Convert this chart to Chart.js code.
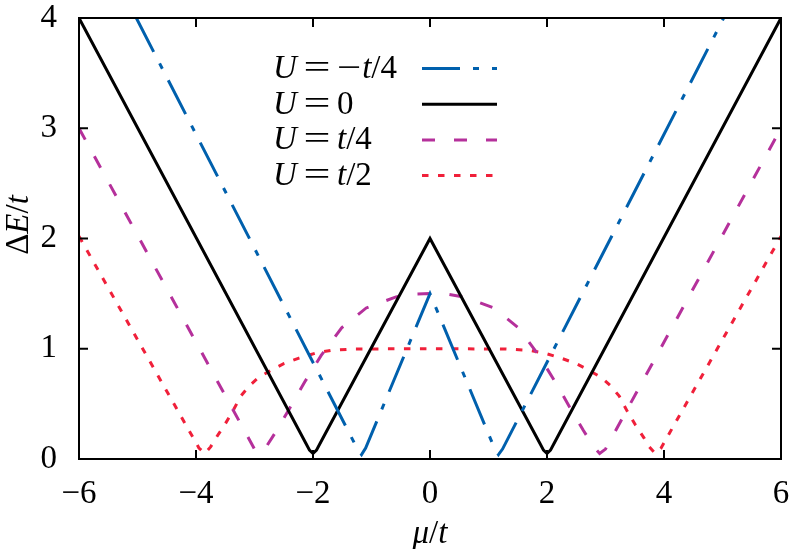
<!DOCTYPE html>
<html><head><meta charset="utf-8">
<script src="https://cdn.jsdelivr.net/npm/chart.js@4/dist/chart.umd.min.js"></script>
<style>html,body{margin:0;padding:0;background:#fff;}#wrap{width:789px;height:549px;}</style>
</head><body><div id="wrap"><canvas id="c" width="789" height="549"></canvas></div>
<script>
// ---- data ----
const seriesLabels = ["U=−t/4", "U=0", "U=t/4", "U=t/2"];
const xTickValues = [-6, -4, -2, 0, 2, 4, 6];
const yTickValues = [0, 1, 2, 3, 4];
const xTitle = "μ/t";
const yTitle = "ΔE/t";

const blueMu = [-5.02, -1.24, -1.17, -1.1, 0, 1.1, 1.17, 1.24, 5.02];
const blueDE = [4, 0.09, 0.04, 0.1, 1.5, 0.1, 0.04, 0.09, 4];

const blackMu = [-6, -2.12, -2.06, -2.0, -1.94, -1.88, 0, 1.88, 1.94, 2.0, 2.06, 2.12, 6];
const blackDE = [4, 0.14, 0.08, 0.05, 0.08, 0.14, 2, 0.14, 0.08, 0.05, 0.08, 0.14, 4];

const magMu = [-6, -3.0, -2.9, -2.8, -2.62, -2.41, -2.14, -1.86, -1.51, -1.09, -0.58, -0.3, 0, 0.3, 0.58, 1.09, 1.51, 1.86, 2.14, 2.41, 2.62, 2.8, 2.9, 3.0, 6];
const magDE = [3, 0.09, 0.05, 0.11, 0.26, 0.45, 0.70, 0.94, 1.19, 1.37, 1.47, 1.495, 1.5, 1.495, 1.47, 1.37, 1.19, 0.94, 0.70, 0.45, 0.26, 0.11, 0.05, 0.09, 3];

const redMu = [-6, -3.95, -3.85, -3.75, -3.66, -3.51, -3.375, -3.235, -3.085, -2.93, -2.7, -2.5, -2.24, -1.96, -1.7, -1.3, 0, 1.3, 1.7, 1.96, 2.24, 2.5, 2.7, 2.93, 3.085, 3.235, 3.375, 3.51, 3.66, 3.75, 3.85, 3.95, 6];
const redDE = [2.02, 0.1, 0.05, 0.11, 0.19, 0.31, 0.43, 0.57, 0.665, 0.74, 0.81, 0.865, 0.915, 0.96, 0.985, 0.998, 1.0, 0.998, 0.985, 0.96, 0.915, 0.865, 0.81, 0.74, 0.665, 0.57, 0.43, 0.31, 0.19, 0.11, 0.05, 0.1, 2.02];

// ---- styles ----
const FONT = '"Liberation Serif", "Times New Roman", serif';
const FS = 33;
const styles = [
  {color: '#0060ad', dash: [38, 13, 6, 13]},
  {color: '#000000', dash: []},
  {color: '#b5309b', dash: [13, 19]},
  {color: '#f0203a', dash: [6.5, 9.5]}
];
const xs = [blueMu, blackMu, magMu, redMu];
const ys = [blueDE, blackDE, magDE, redDE];

const datasets = seriesLabels.map((lab, i) => ({
  label: lab,
  data: xs[i].map((x, j) => ({x: x, y: ys[i][j]})),
  borderColor: styles[i].color,
  borderDash: styles[i].dash,
  borderWidth: 3,
  borderCapStyle: 'butt',
  showLine: true,
  pointRadius: 0,
  tension: 0,
  fill: false
}));

function minusFmt(v) { return v < 0 ? '\u2212' + Math.abs(v) : String(v); }

// rich math text drawing
function drawMath(ctx, str, x, y, size, align) {
  const segs = [];
  for (const ch of str) {
    if (/[A-Za-zμ]/.test(ch)) segs.push({t: ch, it: true, sx: 1, pre: 0, post: 0});
    else if (ch === '=') segs.push({t: ch, it: false, sx: 1.45, pre: 0.2, post: 0.2});
    else if (ch === '\u2212') segs.push({t: ch, it: false, sx: 1.3, pre: 0, post: 0.03});
    else segs.push({t: ch, it: false, sx: 1, pre: 0, post: 0});
  }
  let total = 0;
  for (const s of segs) {
    ctx.font = (s.it ? 'italic ' : '') + size + 'px ' + FONT;
    s.w = ctx.measureText(s.t).width * s.sx;
    total += s.pre * size + s.w + s.post * size;
  }
  let cx = align === 'center' ? x - total / 2 : x;
  ctx.textBaseline = 'alphabetic';
  ctx.textAlign = 'left';
  for (const s of segs) {
    cx += s.pre * size;
    ctx.font = (s.it ? 'italic ' : '') + size + 'px ' + FONT;
    ctx.save();
    ctx.translate(cx, y);
    ctx.scale(s.sx, 1);
    ctx.fillText(s.t, 0, 0);
    ctx.restore();
    cx += s.w + s.post * size;
  }
  return total;
}

const framePlugin = {
  id: 'frame',
  afterDatasetsDraw(chart) {
    const ctx = chart.ctx;
    const a = chart.chartArea;
    const sx = chart.scales.x, sy = chart.scales.y;
    ctx.save();
    ctx.strokeStyle = '#000';
    ctx.lineWidth = 2;
    ctx.setLineDash([]);
    ctx.strokeRect(a.left, a.top, a.right - a.left, a.bottom - a.top);
    const tl = 9;
    ctx.beginPath();
    sx.ticks.forEach(t => {
      const px = sx.getPixelForValue(t.value);
      ctx.moveTo(px, a.bottom); ctx.lineTo(px, a.bottom - tl);
      ctx.moveTo(px, a.top); ctx.lineTo(px, a.top + tl);
    });
    sy.ticks.forEach(t => {
      const py = sy.getPixelForValue(t.value);
      ctx.moveTo(a.left, py); ctx.lineTo(a.left + tl, py);
      ctx.moveTo(a.right, py); ctx.lineTo(a.right - tl, py);
    });
    ctx.stroke();

    // axis titles
    ctx.fillStyle = '#000';
    drawMath(ctx, xTitle, (a.left + a.right) / 2, 543, FS, 'center');
    ctx.save();
    ctx.translate(28, 225);
    ctx.rotate(-Math.PI / 2);
    drawMath(ctx, yTitle, 0, 0, FS, 'center');
    ctx.restore();

    // legend
    const lx = 273, sx0 = 422, sx1 = 497, y0 = 68.5, dy = 35.7;
    chart.data.datasets.forEach((ds, i) => {
      const yy = y0 + i * dy;
      ctx.fillStyle = '#000';
      drawMath(ctx, ds.label, lx, yy + 9.5, FS, 'left');
      ctx.beginPath();
      ctx.strokeStyle = ds.borderColor;
      ctx.lineWidth = ds.borderWidth;
      ctx.lineCap = 'butt';
      ctx.setLineDash(ds.borderDash || []);
      ctx.moveTo(sx0, yy); ctx.lineTo(sx1, yy);
      ctx.stroke();
    });
    ctx.restore();
  }
};

new Chart(document.getElementById('c'), {
  type: 'scatter',
  data: {datasets: datasets},
  options: {
    responsive: false,
    devicePixelRatio: 1,
    animation: false,
    layout: {padding: {top: 18, right: 8, left: 0, bottom: 0}},
    plugins: {legend: {display: false}, tooltip: {enabled: false}},
    scales: {
      x: {
        type: 'linear', min: -6, max: 6,
        afterBuildTicks: s => { s.ticks = xTickValues.map(v => ({value: v})); },
        afterFit: s => { s.height = 90; s.paddingLeft = 0; s.paddingRight = 0; },
        grid: {display: false, drawTicks: false},
        border: {display: false},
        ticks: {color: '#000', font: {family: FONT, size: FS}, padding: 16, maxRotation: 0, autoSkip: false,
                callback: v => minusFmt(v)}
      },
      y: {
        type: 'linear', min: 0, max: 4,
        afterBuildTicks: s => { s.ticks = yTickValues.map(v => ({value: v})); },
        afterFit: s => { s.width = 79; s.paddingTop = 0; s.paddingBottom = 0; },
        grid: {display: false, drawTicks: false},
        border: {display: false},
        ticks: {color: '#000', font: {family: FONT, size: FS}, padding: 22, autoSkip: false,
                callback: v => minusFmt(v)}
      }
    }
  },
  plugins: [framePlugin]
});
</script></body></html>
